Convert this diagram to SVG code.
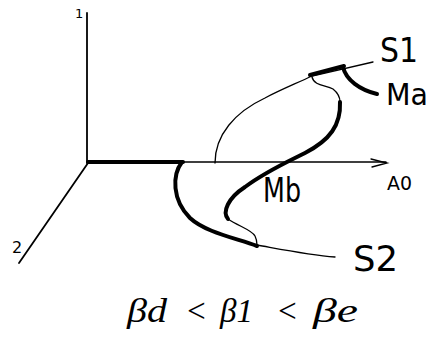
<svg xmlns="http://www.w3.org/2000/svg" width="435" height="345" viewBox="0 0 435 345">
<style>
.ax{fill:none;stroke:#000;stroke-width:1.8;stroke-linecap:round}
.thin{fill:none;stroke:#000;stroke-width:1.3;stroke-linecap:round}
.thick{fill:none;stroke:#000;stroke-width:4;stroke-linecap:round;stroke-linejoin:round}
.lbl{font-family:"DejaVu Sans",sans-serif;fill:#000}
.beta{font-family:"Liberation Serif",serif;font-style:italic;fill:#000;font-size:33px}
</style>
<rect width="435" height="345" fill="#fff"/>
<g id="axes">
<path class="ax" d="M87,13 L87,163"/>
<path class="ax" d="M88,163 L19,263"/>
<path class="thin" d="M182,162 L386,162"/>
<path class="thin" d="M371,159 L387,163 L372,167"/>
<path class="thick" d="M88,162 L183,162"/>
<text class="lbl" x="75" y="18" font-size="13">1</text>
<text class="lbl" x="12" y="253" font-size="16">2</text>
<text class="lbl" x="387" y="190" font-size="19" textLength="25" lengthAdjust="spacingAndGlyphs">A0</text>
</g>
<g id="curves">
<path class="thin" d="M215,163 C215,135 235,112 265,98 C280,90 295,84 312,76 L373,62"/>
<path class="thick" d="M310,75 L344,66"/>
<path class="thick" d="M343,67 C346,80 360,90 377,94" stroke-width="3.5"/>
<path class="thin" d="M312,77 C314,86 326,85 333,89 C338,93 340,98 340,102"/>
<path class="thick" d="M340,102 C341,125 330,140 305,153 C285,163 265,172 245,187 C228,198 222,212 228,219"/>
<path class="thin" d="M228,219 C238,226 252,230 255,236 C257,240 257,243 257,245"/>
<path class="thick" d="M182,162 C172,175 172,200 190,218 C205,232 235,238 257,246"/>
<path class="thin" d="M257,245 C285,250 310,255 335,257"/>
</g>
<g id="labels">
<text class="lbl" x="380" y="62" font-size="34" textLength="38" lengthAdjust="spacingAndGlyphs">S1</text>
<text class="lbl" x="386" y="105" font-size="30" textLength="42" lengthAdjust="spacingAndGlyphs">Ma</text>
<text class="lbl" x="263" y="202" font-size="33" textLength="38" lengthAdjust="spacingAndGlyphs">Mb</text>
<text class="lbl" x="353" y="271" font-size="35" textLength="45" lengthAdjust="spacingAndGlyphs">S2</text>
</g>
<g id="condition">
<text class="beta" x="127" y="322" textLength="40" lengthAdjust="spacingAndGlyphs">βd</text>
<text class="beta" x="185" y="322" font-size="26">&lt;</text>
<text class="beta" x="220" y="322" textLength="33" lengthAdjust="spacingAndGlyphs">β1</text>
<text class="beta" x="276" y="322" font-size="26">&lt;</text>
<text class="beta" x="313" y="322" textLength="45" lengthAdjust="spacingAndGlyphs">βe</text>
</g>
</svg>
